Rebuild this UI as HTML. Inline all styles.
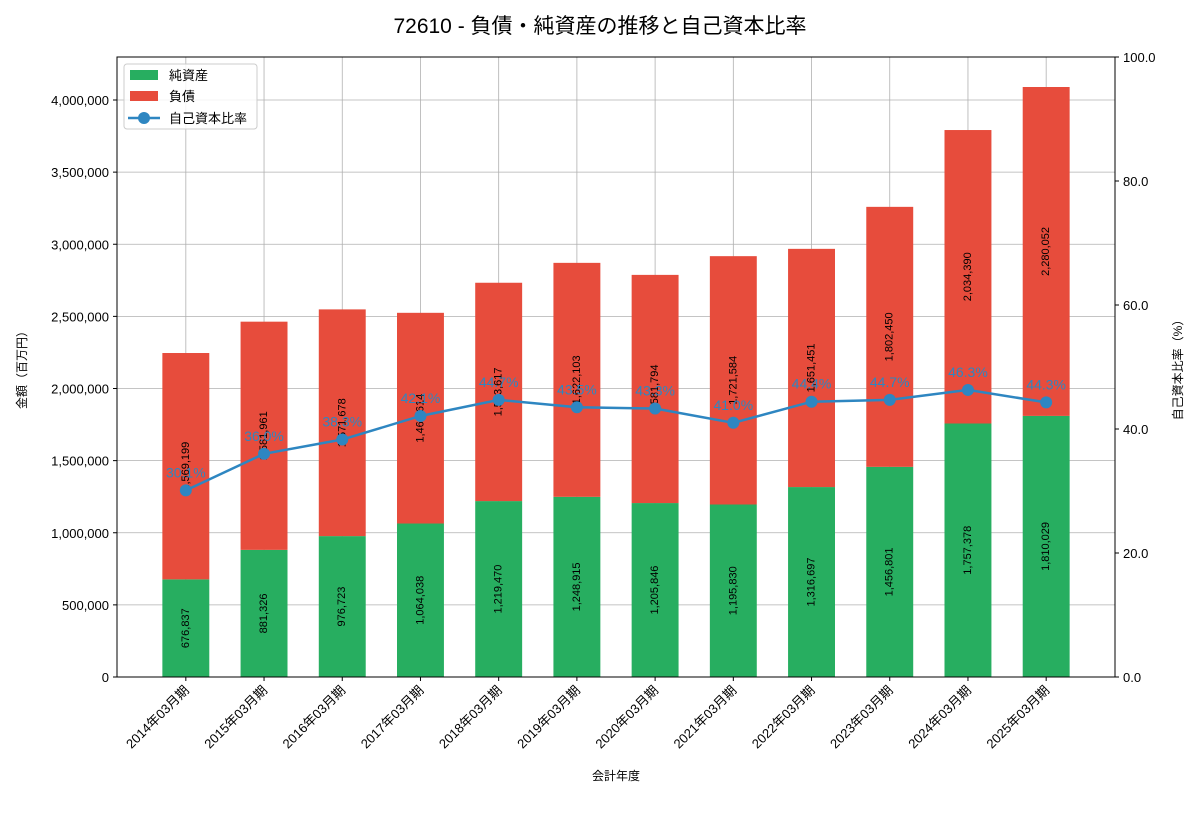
<!DOCTYPE html>
<html><head><meta charset="utf-8"><style>
body{margin:0;background:#fff;}
svg text{font-family:"Liberation Sans","Noto Sans CJK JP",sans-serif;}
</style></head><body>
<svg id="chart" width="1200" height="800" xmlns="http://www.w3.org/2000/svg">
<rect width="1200" height="800" fill="#fff"/>
<text x="600" y="33" text-anchor="middle" font-size="21">72610 - 負債・純資産の推移と自己資本比率</text>
<g id="grid"></g><g id="bars"></g><g id="line"></g><g id="axes"></g>
</svg>
<script>
const categories=["2014年03月期","2015年03月期","2016年03月期","2017年03月期","2018年03月期","2019年03月期","2020年03月期","2021年03月期","2022年03月期","2023年03月期","2024年03月期","2025年03月期"];
const netAssets=[676837,881326,976723,1064038,1219470,1248915,1205846,1195830,1316697,1456801,1757378,1810029];
const liabilities=[1569199,1581961,1571678,1460614,1513617,1622103,1581794,1721584,1651451,1802450,2034390,2280052];
const ratios=[30.1,36.0,38.3,42.1,44.7,43.5,43.3,41.0,44.4,44.7,46.3,44.3];
const leftTicks=[0,500000,1000000,1500000,2000000,2500000,3000000,3500000,4000000];
const rightTicks=[0,20,40,60,80,100];
const NS="http://www.w3.org/2000/svg";
const L=117,R=1115,T=57,B=677;
const n=categories.length;
const xMin=-0.88,xMax=n-1+0.88;
const X=i=>L+(i-xMin)/(xMax-xMin)*(R-L);
const Y=v=>B-v/4000000*577;
const Y2=v=>B-v/100*(B-T);
const bw=0.6*(R-L)/(xMax-xMin);
function el(tag,attrs,parent,text){const e=document.createElementNS(NS,tag);for(const k in attrs)e.setAttribute(k,attrs[k]);if(text!==undefined)e.textContent=text;document.getElementById(parent)?document.getElementById(parent).appendChild(e):parent.appendChild(e);return e;}
const fmt=v=>v.toLocaleString('en-US');
// grid
categories.forEach((c,i)=>{const g=el('line',{x1:X(i),x2:X(i),y1:T,y2:B,stroke:'#b0b0b0','stroke-width':0.8},'grid');});
leftTicks.forEach(t=>{const g=el('line',{x1:L,x2:R,y1:Y(t),y2:Y(t),stroke:'#b0b0b0','stroke-width':0.8},'grid');});
// bars
categories.forEach((c,i)=>{
 const x=X(i)-bw/2;
 const a=el('rect',{x:x,y:Y(netAssets[i]),width:bw,height:B-Y(netAssets[i]),fill:'#27ae60'},'bars');
 
 const top=netAssets[i]+liabilities[i];
 const b=el('rect',{x:x,y:Y(top),width:bw,height:Y(netAssets[i])-Y(top),fill:'#e74c3c'},'bars');
 
 const cy1=Y(netAssets[i]/2),cy2=Y(netAssets[i]+liabilities[i]/2);
 const t1=el('text',{x:X(i),y:cy1,'font-size':11,'text-anchor':'middle','dominant-baseline':'central',transform:`rotate(-90 ${X(i)} ${cy1})`},'bars',fmt(netAssets[i]));
 
 const t2=el('text',{x:X(i),y:cy2,'font-size':11,'text-anchor':'middle','dominant-baseline':'central',transform:`rotate(-90 ${X(i)} ${cy2})`},'bars',fmt(liabilities[i]));
 
});
// line
const pts=ratios.map((r,i)=>X(i)+','+Y2(r)).join(' ');
const pl=el('polyline',{points:pts,fill:'none',stroke:'#2e86c1','stroke-width':2.5},'line');

ratios.forEach((r,i)=>{
 const c=el('circle',{cx:X(i),cy:Y2(r),r:6,fill:'#2e86c1'},'line');
 
 const t=el('text',{x:X(i),y:Y2(r)-13,'font-size':14,'text-anchor':'middle',fill:'#2e86c1'},'line',r.toFixed(1)+'%');
 
});
// axes
const fr=el('rect',{x:L,y:T,width:R-L,height:B-T,fill:'none',stroke:'#000','stroke-width':1},'axes');

leftTicks.forEach(t=>{el('line',{x1:L-4,x2:L,y1:Y(t),y2:Y(t),stroke:'#000'},'axes');
 const tx=el('text',{x:L-8,y:Y(t)+5,'font-size':13,'text-anchor':'end'},'axes',fmt(t));
 });
rightTicks.forEach(t=>{el('line',{x1:R,x2:R+4,y1:Y2(t),y2:Y2(t),stroke:'#000'},'axes');
 const tx=el('text',{x:R+8,y:Y2(t)+5,'font-size':13},'axes',t.toFixed(1));
 });
categories.forEach((c,i)=>{el('line',{x1:X(i),x2:X(i),y1:B,y2:B+4,stroke:'#000'},'axes');
 const tx=el('text',{x:X(i)+4,y:B+14,'font-size':13,'text-anchor':'end',transform:`rotate(-45 ${X(i)+4} ${B+14})`},'axes',c);
 });
</script>
<svg width="0" height="0"></svg>
<script>
const s=document.getElementById('chart');
s.insertAdjacentHTML('beforeend',`
<text x="616" y="780" font-size="12" text-anchor="middle">会計年度</text>
<text x="26" y="367" font-size="12" text-anchor="middle" transform="rotate(-90 26 367)">金額（百万円）</text>
<text x="1182" y="367" font-size="12" text-anchor="middle" transform="rotate(-90 1182 367)">自己資本比率（%）</text>
<g>
<rect x="124" y="64" width="133" height="65" rx="3" fill="#fff" fill-opacity="0.85" stroke="#ccc"/>
<rect x="130" y="70" width="28" height="10" fill="#27ae60"/>
<text x="169" y="80" font-size="13">純資産</text>
<rect x="130" y="91" width="28" height="10" fill="#e74c3c"/>
<text x="169" y="101" font-size="13">負債</text>
<line x1="128" x2="160" y1="118" y2="118" stroke="#2e86c1" stroke-width="2.5"/>
<circle cx="144" cy="118" r="6" fill="#2e86c1"/>
<text x="169" y="123" font-size="13">自己資本比率</text>
</g>`);
</script>
</body></html>
